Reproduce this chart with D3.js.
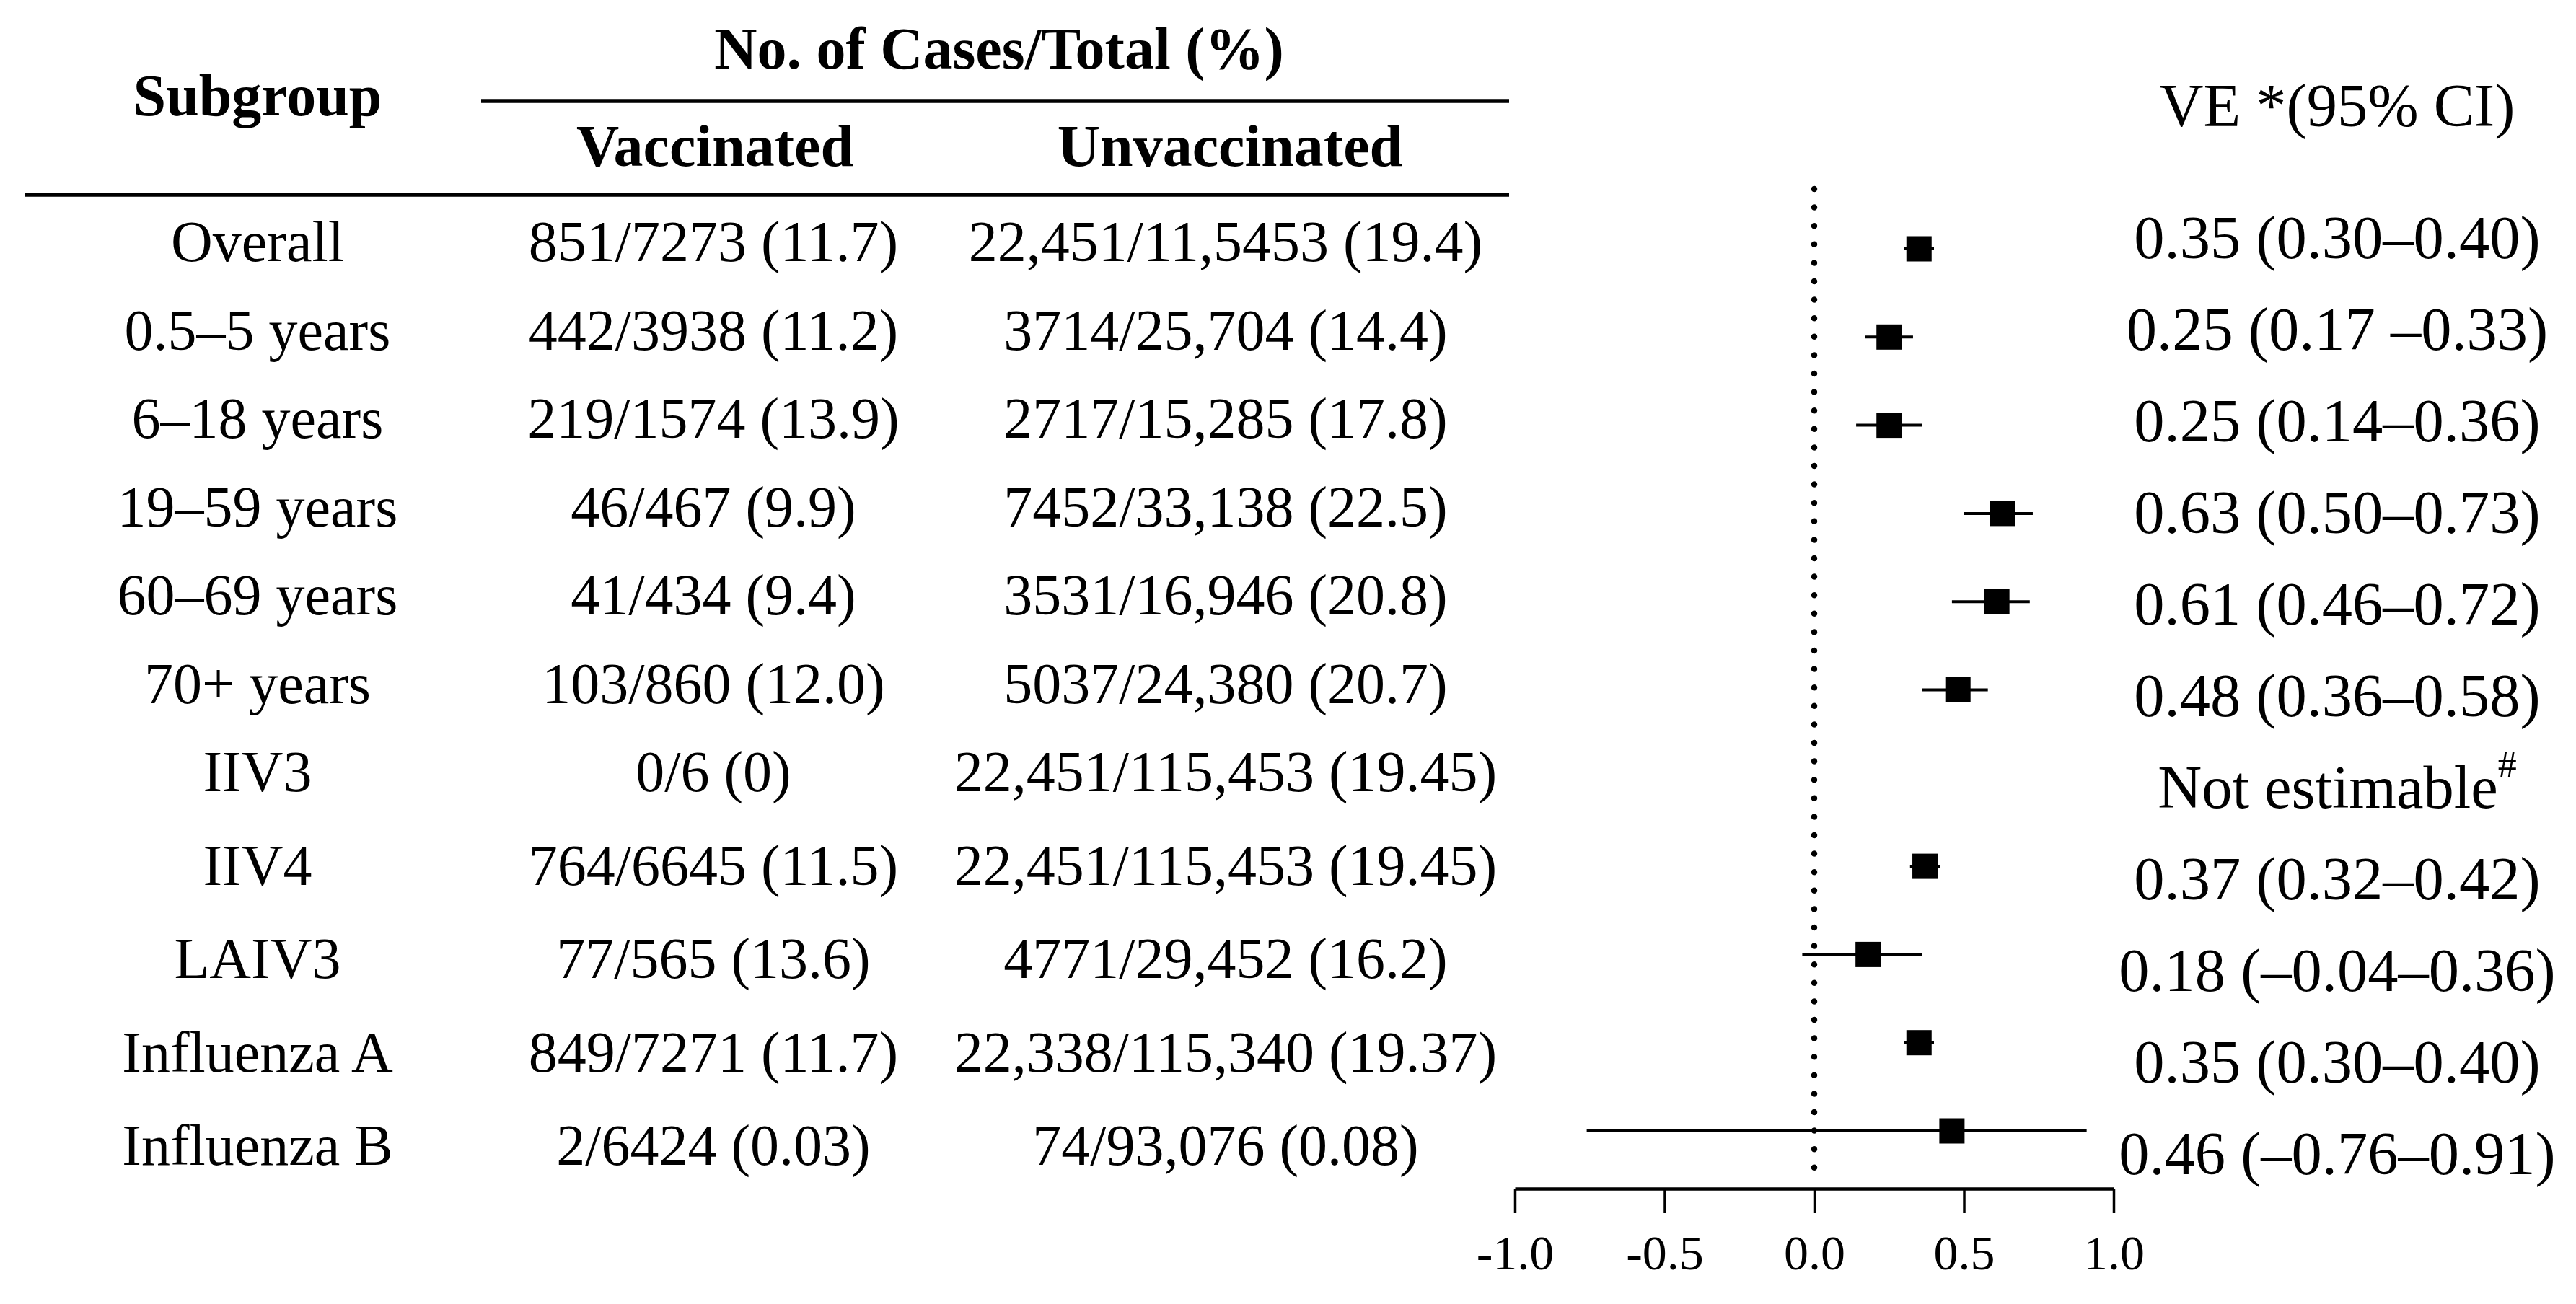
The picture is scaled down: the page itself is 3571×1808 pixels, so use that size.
<!DOCTYPE html>
<html>
<head>
<meta charset="utf-8">
<script src="https://cdn.jsdelivr.net/npm/d3@7/dist/d3.min.js"></script>
<style>
  html, body { margin: 0; padding: 0; background: #fff; }
  svg { display: block; }
  text { font-family: "Liberation Serif", "Times New Roman", serif; fill: #000; }
</style>
</head>
<body>
<svg id="chart" width="3571" height="1808"></svg>
<script>
// ---------------- data ----------------
const subgroups = ["Overall", "0.5–5 years", "6–18 years", "19–59 years", "60–69 years", "70+ years",
  "IIV3", "IIV4", "LAIV3", "Influenza A", "Influenza B"];
const vaccinated = ["851/7273 (11.7)", "442/3938 (11.2)", "219/1574 (13.9)", "46/467 (9.9)", "41/434 (9.4)",
  "103/860 (12.0)", "0/6 (0)", "764/6645 (11.5)", "77/565 (13.6)", "849/7271 (11.7)", "2/6424 (0.03)"];
const unvaccinated = ["22,451/11,5453 (19.4)", "3714/25,704 (14.4)", "2717/15,285 (17.8)", "7452/33,138 (22.5)",
  "3531/16,946 (20.8)", "5037/24,380 (20.7)", "22,451/115,453 (19.45)", "22,451/115,453 (19.45)",
  "4771/29,452 (16.2)", "22,338/115,340 (19.37)", "74/93,076 (0.08)"];
const veEstimate = [0.35, 0.25, 0.25, 0.63, 0.61, 0.48, null, 0.37, 0.18, 0.35, 0.46];
const veLower    = [0.30, 0.17, 0.14, 0.50, 0.46, 0.36, null, 0.32, -0.04, 0.30, -0.76];
const veUpper    = [0.40, 0.33, 0.36, 0.73, 0.72, 0.58, null, 0.42, 0.36, 0.40, 0.91];
const veLabels = ["0.35 (0.30–0.40)", "0.25 (0.17 –0.33)", "0.25 (0.14–0.36)", "0.63 (0.50–0.73)",
  "0.61 (0.46–0.72)", "0.48 (0.36–0.58)", "Not estimable", "0.37 (0.32–0.42)",
  "0.18 (–0.04–0.36)", "0.35 (0.30–0.40)", "0.46 (–0.76–0.91)"];
const veNote = "#";
const tickValues = [-1.0, -0.5, 0.0, 0.5, 1.0];
const tickLabels = ["-1.0", "-0.5", "0.0", "0.5", "1.0"];
const headers = {
  subgroup: "Subgroup",
  cases: "No. of Cases/Total (%)",
  vacc: "Vaccinated",
  unvacc: "Unvaccinated",
  ve: "VE *(95% CI)"
};

// ---------------- layout ----------------
const svg = d3.select("#chart");
const idx = d3.range(subgroups.length);

const x = d3.scaleLinear().domain([-1, 1]).range([2100, 2930]);
// forest plot row positions
const yForest = d3.scaleLinear().domain([0, 10]).range([345, 1568]);
// table text baselines
const yTable = d3.scaleLinear().domain([0, 6, 10]).range([362, 1097, 1615]);
// right VE column baselines
const yVE = d3.scaleLinear().domain([0, 10]).range([358, 1628]);

const col = { sub: 357, vacc: 989, unvacc: 1699, ve: 3240 };
const tableFont = 80, veFont = 84.5, headFont = 82;

// ---------------- header ----------------
const head = svg.append("g");
head.append("text").attr("x", col.sub).attr("y", 160).attr("text-anchor", "middle")
  .attr("font-weight", "bold").attr("font-size", headFont).text(headers.subgroup);
head.append("text").attr("x", 1385).attr("y", 95).attr("text-anchor", "middle")
  .attr("font-weight", "bold").attr("font-size", headFont).text(headers.cases);
head.append("text").attr("x", col.vacc + 2).attr("y", 230).attr("text-anchor", "middle")
  .attr("font-weight", "bold").attr("font-size", headFont).text(headers.vacc);
head.append("text").attr("x", col.unvacc + 6).attr("y", 230).attr("text-anchor", "middle")
  .attr("font-weight", "bold").attr("font-size", headFont).text(headers.unvacc);
head.append("text").attr("x", col.ve).attr("y", 175).attr("text-anchor", "middle")
  .attr("font-size", veFont).text(headers.ve);

head.append("line").attr("x1", 667).attr("x2", 2092).attr("y1", 140).attr("y2", 140)
  .attr("stroke", "#000").attr("stroke-width", 5.5);
head.append("line").attr("x1", 35).attr("x2", 2092).attr("y1", 270).attr("y2", 270)
  .attr("stroke", "#000").attr("stroke-width", 5.5);

// ---------------- table ----------------
const table = svg.append("g").attr("font-size", tableFont).attr("text-anchor", "middle");
table.selectAll("text.sub").data(idx).join("text").attr("class", "sub")
  .attr("x", col.sub).attr("y", i => yTable(i)).text(i => subgroups[i]);
table.selectAll("text.vacc").data(idx).join("text").attr("class", "vacc")
  .attr("x", col.vacc).attr("y", i => yTable(i)).text(i => vaccinated[i]);
table.selectAll("text.unvacc").data(idx).join("text").attr("class", "unvacc")
  .attr("x", col.unvacc).attr("y", i => yTable(i)).text(i => unvaccinated[i]);

// ---------------- forest plot ----------------
const plot = svg.append("g");
// reference line at 0
plot.append("line")
  .attr("x1", x(0)).attr("x2", x(0)).attr("y1", 262).attr("y2", 1630)
  .attr("stroke", "#000").attr("stroke-width", 8.5)
  .attr("stroke-linecap", "round").attr("stroke-dasharray", "0 25.6");

const est = idx.filter(i => veEstimate[i] !== null);
plot.selectAll("line.ci").data(est).join("line").attr("class", "ci")
  .attr("x1", i => x(veLower[i])).attr("x2", i => x(veUpper[i]))
  .attr("y1", i => yForest(i)).attr("y2", i => yForest(i))
  .attr("stroke", "#000").attr("stroke-width", 4);
const sq = 35;
plot.selectAll("rect.pt").data(est).join("rect").attr("class", "pt")
  .attr("x", i => x(veEstimate[i]) - sq / 2).attr("y", i => yForest(i) - sq / 2)
  .attr("width", sq).attr("height", sq).attr("fill", "#000");

// axis
const axis = d3.axisBottom(x).tickValues(tickValues).tickSize(34).tickSizeOuter(0)
  .tickFormat((d, i) => tickLabels[i]);
const ax = svg.append("g").attr("transform", "translate(0,1648)").call(axis);
ax.select(".domain").attr("stroke", "#000").attr("stroke-width", 4.5);
ax.selectAll(".tick line").attr("stroke", "#000").attr("stroke-width", 3.5);
ax.selectAll(".tick text").attr("font-family", "\"Liberation Serif\", \"Times New Roman\", serif")
  .attr("font-size", 68).attr("fill", "#000").attr("y", 112).attr("dy", 0);

// ---------------- VE column ----------------
const veCol = svg.append("g").attr("font-size", veFont).attr("text-anchor", "middle");
veCol.selectAll("text").data(idx).join("text")
  .attr("x", col.ve).attr("y", i => yVE(i))
  .each(function (i) {
    const t = d3.select(this);
    t.append("tspan").text(veLabels[i]);
    if (veEstimate[i] === null) {
      t.append("tspan").attr("font-size", 52).attr("dy", -42).text(veNote);
    }
  });
</script>
</body>
</html>
